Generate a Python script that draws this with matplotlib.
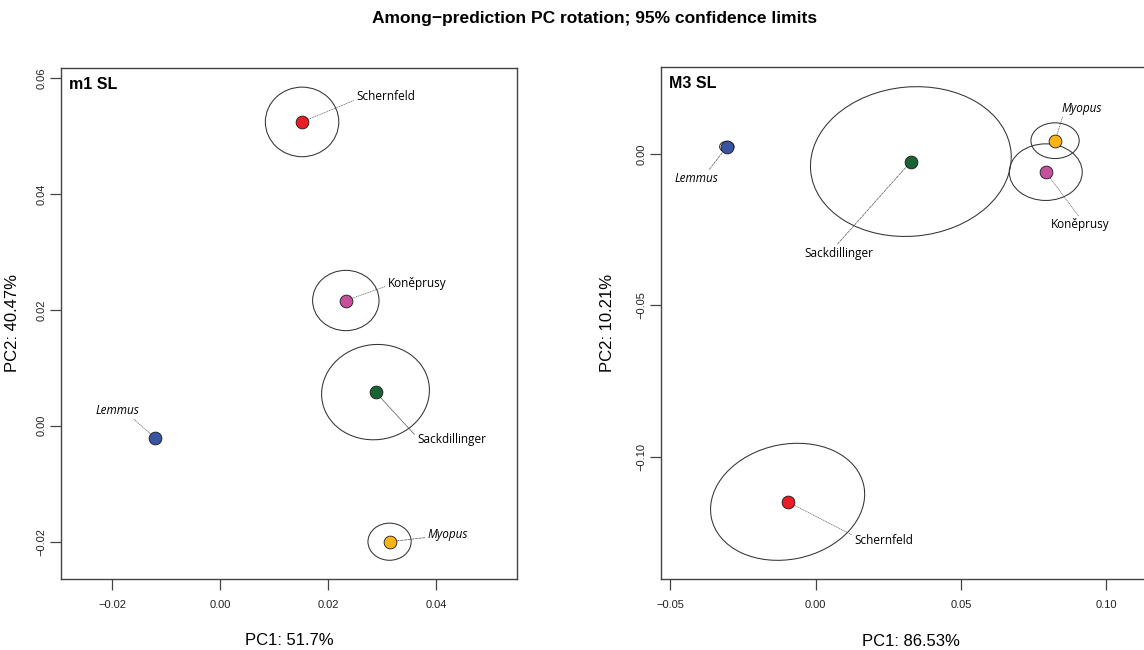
import matplotlib
matplotlib.use("Agg")
import matplotlib.pyplot as plt
from matplotlib.patches import Ellipse

# ---------------- data ----------------
groups = ["Schernfeld", "Koněprusy", "Sackdillinger", "Lemmus", "Myopus"]
italic_groups = ["Lemmus", "Myopus"]
colors = ["#EC1C24", "#C4509E", "#1A6334", "#3A54A4", "#FBB416"]

# m1 SL
m1_pc1 = [0.0152, 0.0233, 0.0288, -0.0120, 0.0314]
m1_pc2 = [0.0524, 0.0216, 0.0058, -0.0021, -0.0200]
m1_ell_w = [0.0136, 0.0123, 0.0200, 0.0, 0.0080]
m1_ell_h = [0.0120, 0.0104, 0.0164, 0.0, 0.0064]
m1_ell_ang = [0, 0, 6, 0, 0]

# M3 SL
m3_pc1 = [-0.0096, 0.0792, 0.0328, -0.0305, 0.0824]
m3_pc2 = [-0.1149, -0.0060, -0.0025, 0.0024, 0.0044]
m3_ell_w = [0.0535, 0.0251, 0.0692, 0.0050, 0.0166]
m3_ell_h = [0.0380, 0.0187, 0.0493, 0.0036, 0.0118]
m3_ell_ang = [11, 0, 5, 0, 0]

m1_xticks = [-0.02, 0.00, 0.02, 0.04]
m1_xticklabels = ["\u22120.02", "0.00", "0.02", "0.04"]
m1_yticks = [-0.02, 0.00, 0.02, 0.04, 0.06]
m1_yticklabels = ["\u22120.02", "0.00", "0.02", "0.04", "0.06"]
m3_xticks = [-0.05, 0.00, 0.05, 0.10]
m3_xticklabels = ["\u22120.05", "0.00", "0.05", "0.10"]
m3_yticks = [-0.10, -0.05, 0.00]
m3_yticklabels = ["\u22120.10", "\u22120.05", "0.00"]

title = "Among\u2212prediction PC rotation; 95% confidence limits"

# ---------------- layout ----------------
# label offsets (points) and connector attach point on label box
m1_lab = {
    "Schernfeld": ((39, 18), "left", (0.0, 0.3), ":"),
    "Koněprusy": ((30, 12.5), "left", (0.0, 0.3), ":"),
    "Sackdillinger": ((30, -34), "left", (0.0, 0.65), "-"),
    "Lemmus": ((-27, 20), "center", (0.8, 0.0), ":"),
    "Myopus": ((27.5, 5.5), "left", (0.0, 0.25), "--"),
}
m3_lab = {
    "Schernfeld": ((48, -27.5), "left", (0.0, 0.8), ":"),
    "Koněprusy": ((25, -38), "center", (0.5, 1.0), ":"),
    "Sackdillinger": ((-52, -66), "center", (0.45, 1.0), "--"),
    "Lemmus": ((-22, -23), "center", (0.75, 1.0), "--"),
    "Myopus": ((4.5, 23.5), "left", (0.05, 0.0), ":"),
}

W, H = 1144, 650
fig = plt.figure(figsize=(W / 100, H / 100), dpi=100)

FR = "#444444"
LAB_FONT = ["Open Sans", "DejaVu Sans"]
AX_FONT = ["Liberation Sans", "DejaVu Sans"]


def make_panel(rect, name, pc1, pc2, ew, eh, ea, lab, xt, xtl, yt, ytl,
               xlim, ylim, xlabel, ylabel, ylabel_x):
    ax = fig.add_axes(rect)
    ax.set_xlim(*xlim)
    ax.set_ylim(*ylim)
    for s in ax.spines.values():
        s.set_color(FR)
        s.set_linewidth(1.0)
    ax.set_xticks(xt)
    ax.set_xticklabels(xtl, family=AX_FONT, fontsize=8, color="#222222")
    ax.set_yticks(yt)
    ax.set_yticklabels(ytl, family=AX_FONT, fontsize=8, color="#222222",
                       rotation=90, va="center")
    ax.tick_params(axis="both", direction="out", length=8, width=0.9,
                   color=FR)
    ax.tick_params(axis="x", pad=7)
    ax.tick_params(axis="y", pad=2.5)
    ax.set_xlabel(xlabel, family=AX_FONT, fontsize=12, labelpad=17)
    ax.set_ylabel(ylabel, family=AX_FONT, fontsize=12)
    ax.yaxis.set_label_coords(ylabel_x, 0.5)
    ax.text(0.017, 0.983, name, transform=ax.transAxes, ha="left", va="top",
            family=AX_FONT, fontsize=11.5, fontweight="bold")
    for i, g in enumerate(groups):
        if ew[i] > 0:
            ax.add_patch(Ellipse((pc1[i], pc2[i]), ew[i], eh[i], angle=ea[i],
                                 fill=False, ec="#333333", lw=0.75, zorder=2))
        off, ha, rp, ls = lab[g]
        ax.annotate(g, xy=(pc1[i], pc2[i]), xytext=off,
                    textcoords="offset points", ha=ha, va="center",
                    family=LAB_FONT, fontsize=8.5,
                    style="italic" if g in italic_groups else "normal",
                    arrowprops=dict(arrowstyle="-", lw=0.5, color="#555555",
                                    linestyle=ls, relpos=rp,
                                    shrinkA=0, shrinkB=2),
                    zorder=3)
        ax.plot(pc1[i], pc2[i], "o", ms=9.2, mfc=colors[i], mec="#1a1a1a",
                mew=0.6, zorder=4)
    return ax


make_panel([61 / W, 1 - 579 / H, (517 - 61) / W, (579 - 68) / H], "m1 SL",
           m1_pc1, m1_pc2, m1_ell_w, m1_ell_h, m1_ell_ang, m1_lab,
           m1_xticks, m1_xticklabels, m1_yticks, m1_yticklabels,
           (-0.02944, 0.0550), (-0.02643, 0.0617),
           "PC1: 51.7%", "PC2: 40.47%", -0.09)

make_panel([661 / W, 1 - 579.3 / H, (1160 - 661) / W, (579.3 - 67.3) / H],
           "M3 SL",
           m3_pc1, m3_pc2, m3_ell_w, m3_ell_h, m3_ell_ang, m3_lab,
           m3_xticks, m3_xticklabels, m3_yticks, m3_yticklabels,
           (-0.05315, 0.1185), (-0.1405, 0.02864),
           "PC1: 86.53%", "PC2: 10.21%", -0.093)

fig.text(595 / W, 1 - 19 / H, title, ha="center", va="center",
         family=AX_FONT, fontsize=12.5, fontweight="bold")

fig.savefig("out.png", dpi=100)
